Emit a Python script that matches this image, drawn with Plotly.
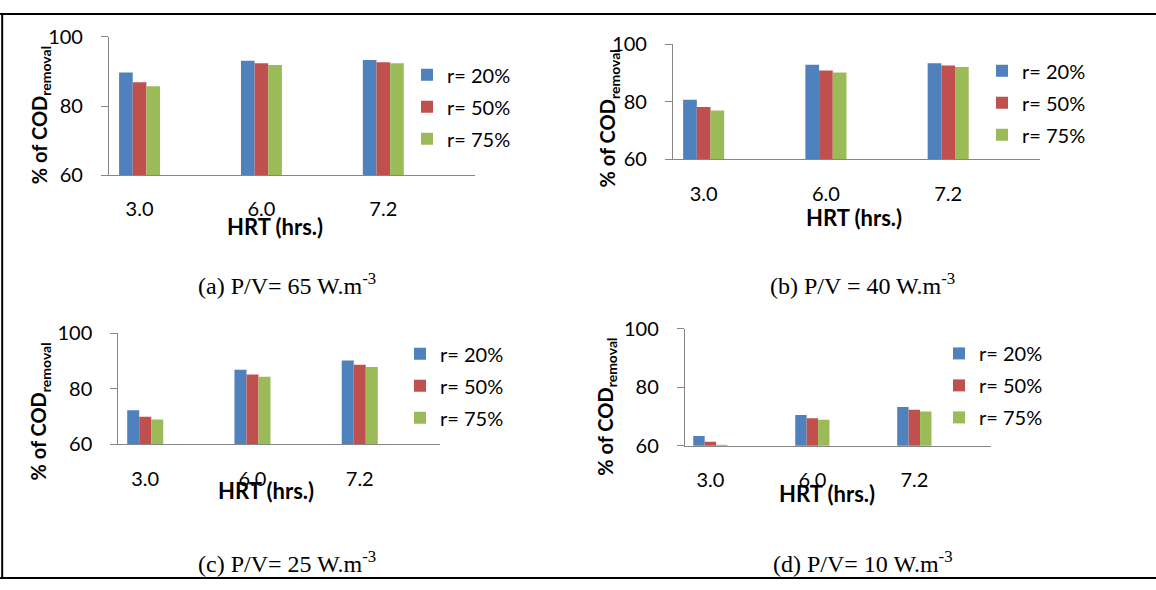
import plotly.graph_objects as go

W, H = 1156, 590

categories = ["3.0", "6.0", "7.2"]
series_names = ["r= 20%", "r= 50%", "r= 75%"]
colors = ["#4F81BD", "#C0504D", "#9BBB59"]

# (a) P/V = 65
a_r20 = [89.7, 93.1, 93.3]
a_r50 = [86.9, 92.4, 92.7]
a_r75 = [85.7, 91.9, 92.4]
# (b) P/V = 40
b_r20 = [80.8, 92.9, 93.4]
b_r50 = [78.2, 90.9, 92.7]
b_r75 = [77.0, 90.2, 92.1]
# (c) P/V = 25
c_r20 = [72.3, 86.9, 90.2]
c_r50 = [70.0, 85.2, 88.7]
c_r75 = [69.0, 84.4, 87.9]
# (d) P/V = 10
d_r20 = [63.3, 70.5, 73.2]
d_r50 = [61.3, 69.4, 72.3]
d_r75 = [60.3, 68.9, 71.7]

captions = ["(a) P/V= 65 W.m<sup>-3</sup>", "(b) P/V = 40 W.m<sup>-3</sup>",
            "(c) P/V= 25 W.m<sup>-3</sup>", "(d) P/V= 10 W.m<sup>-3</sup>"]
y_ticks = [60, 80, 100]

panels = [
    dict(data=[a_r20, a_r50, a_r75], xd=(109.1, 474.7), yd=(25, 169),
         leg=(445, 63), xt=(275, 223), yt=(40, 106.5), cap=(286.6, 283)),
    dict(data=[b_r20, b_r50, b_r75], xd=(673.1, 1039.9), yd=(32.7, 152.7),
         leg=(1020, 59), xt=(853.6, 213), yt=(609, 110), cap=(862.7, 283)),
    dict(data=[c_r20, c_r50, c_r75], xd=(118.4, 440.2), yd=(334, 449.7),
         leg=(438, 354), xt=(266, 498), yt=(40, 415.5), cap=(286.7, 572)),
    dict(data=[d_r20, d_r50, d_r75], xd=(684.9, 990.8), yd=(329.3, 451),
         leg=(977, 353.5), xt=(827.4, 501), yt=(607, 410.5), cap=(862.7, 572)),
]

def px(x):
    return x / W

def py(y):
    return 1 - y / H

FONT = "Lato"
fig = go.Figure()
layout = dict(
    width=W, height=H, margin=dict(l=0, r=0, t=0, b=0),
    paper_bgcolor="white", plot_bgcolor="rgba(0,0,0,0)",
    barmode="group", bargap=0.664, bargroupgap=0,
    font=dict(family=FONT, size=20, color="black"),
    annotations=[], shapes=[],
)

for i, p in enumerate(panels):
    n = "" if i == 0 else str(i + 1)
    legname = "legend" + n
    for j, vals in enumerate(p["data"]):
        fig.add_trace(go.Bar(
            x=categories, y=vals, name=series_names[j],
            marker=dict(color=colors[j], line=dict(width=0)),
            xaxis="x" + n, yaxis="y" + n, legend=legname,
            legendgroup=f"p{i}s{j}", offsetgroup=str(j),
        ))
    layout["xaxis" + n] = dict(
        domain=[px(p["xd"][0]), px(p["xd"][1])], anchor="y" + n,
        type="category", range=[-0.25, 2.75],
        showline=True, linecolor="#868686", linewidth=1.3,
        ticks="", showgrid=False, zeroline=False,
        tickfont=dict(family=FONT, size=20, color="black"),
        ticklabelstandoff=16, fixedrange=True,
    )
    layout["yaxis" + n] = dict(
        domain=[py(p["yd"][1]), py(p["yd"][0])], anchor="x" + n,
        range=[60, 100], tickvals=y_ticks,
        showline=True, linecolor="#868686", linewidth=1.3,
        ticks="outside", ticklen=7, tickcolor="#868686", tickwidth=1.3,
        showgrid=False, zeroline=False,
        tickfont=dict(family=FONT, size=20, color="black"),
        ticklabelstandoff=14, fixedrange=True,
    )
    layout[legname] = dict(
        x=px(p["leg"][0] - 38), y=py(p["leg"][1] - 19),
        xanchor="left", yanchor="top",
        traceorder="grouped", tracegroupgap=3,
        bgcolor="rgba(0,0,0,0)", borderwidth=0,
        font=dict(family=FONT, size=20, color="black"),
    )
    layout["annotations"].append(dict(
        text="<b>HRT (hrs.)</b>", x=px(p["xt"][0]), y=py(p["xt"][1]),
        xref="paper", yref="paper", xanchor="center", yanchor="middle",
        showarrow=False, font=dict(family=FONT, size=22, color="black")))
    layout["annotations"].append(dict(
        text="<b>% of COD<sub>removal</sub></b>", x=px(p["yt"][0]), y=py(p["yt"][1]),
        xref="paper", yref="paper", xanchor="center", yanchor="middle",
        textangle=-90, showarrow=False,
        font=dict(family=FONT, size=20, color="black")))
    layout["annotations"].append(dict(
        text=captions[i], x=px(p["cap"][0]), y=py(p["cap"][1]),
        xref="paper", yref="paper", xanchor="center", yanchor="middle",
        showarrow=False, font=dict(family="Liberation Serif", size=24, color="black")))

# table borders
layout["shapes"] = [
    dict(type="line", xref="paper", yref="paper", x0=0, x1=1, y0=py(1), y1=py(1),
         line=dict(color="black", width=2)),
    dict(type="line", xref="paper", yref="paper", x0=px(2.2), x1=px(2.2), y0=py(0), y1=py(589),
         line=dict(color="black", width=2)),
    dict(type="line", xref="paper", yref="paper", x0=0, x1=1, y0=py(589), y1=py(589),
         line=dict(color="black", width=2)),
]

fig.update_layout(**layout)
fig.write_html(
    "out.html",
    config={"displayModeBar": False},
    post_script="document.body.style.margin='0';document.body.style.overflow='hidden';",
)
